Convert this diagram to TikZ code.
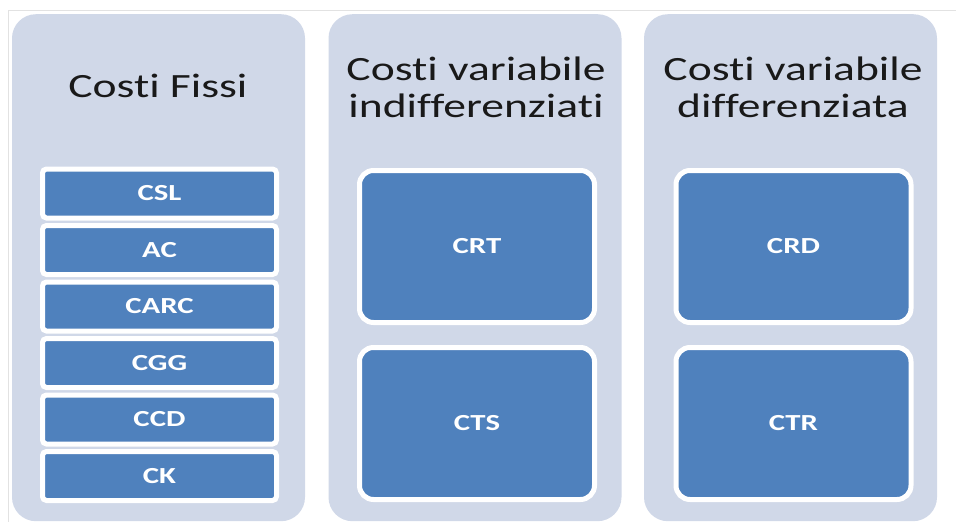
\documentclass[tikz,border=0pt]{standalone}
\usepackage{fontspec}
\setmainfont{Carlito}[Ligatures=NoCommon]
\definecolor{colfill}{HTML}{D0D8E8}
\definecolor{boxblue}{HTML}{4F81BD}
\definecolor{framegray}{HTML}{E2E2E2}
\newcommand\widetxt[1]{\scalebox{1.34}[1]{#1}}
\begin{document}
\begin{tikzpicture}[x=1pt,y=-1pt,
  column/.style={fill=colfill,draw=none,rounded corners=24pt,minimum width=293pt,minimum height=507pt,anchor=north,inner sep=0pt},
  smallbox/.style={fill=boxblue,draw=white,line width=5pt,rounded corners=4pt,minimum width=234pt,minimum height=49pt,inner sep=0pt,text=white,font=\bfseries\fontsize{23}{25}\selectfont},
  bigbox/.style={fill=boxblue,draw=white,line width=5pt,rounded corners=14pt,minimum width=235pt,minimum height=152pt,inner sep=0pt,text=white,font=\bfseries\fontsize{23}{25}\selectfont},
  title/.style={anchor=base,align=center,inner sep=0pt,text=black!90,font=\fontsize{34}{37}\selectfont}]
\useasboundingbox (0,0) rectangle (956,522);
\fill[white] (0,0) rectangle (956,522);
\draw[framegray,line width=1pt] (8,530) -- (8,10) -- (960,10);
\node[column] (c1) at (158.5,14) {};
\node[column] (c2) at (475,14) {};
\node[column] (c3) at (790.5,14) {};
\node[title] (t1) at (158,97) {\widetxt{Costi Fissi}};
\node[title] (t2) at (476,117) {\widetxt{Costi variabile}\\\widetxt{indifferenziati}};
\node[title] (t3) at (793,117) {\widetxt{Costi variabile}\\\widetxt{differenziata}};
\node[smallbox] (csl) at (159.5,193.5) {\widetxt{CSL}};
\node[smallbox] (ac) at (159.5,250) {\widetxt{AC}};
\node[smallbox] (carc) at (159.5,306.5) {\widetxt{CARC}};
\node[smallbox] (cgg) at (159.5,363) {\widetxt{CGG}};
\node[smallbox] (ccd) at (159.5,419.5) {\widetxt{CCD}};
\node[smallbox] (ck) at (159.5,476) {\widetxt{CK}};
\node[bigbox] (crt) at (477,246.5) {\widetxt{CRT}};
\node[bigbox] (cts) at (477,423.5) {\widetxt{CTS}};
\node[bigbox] (crd) at (793.5,246.5) {\widetxt{CRD}};
\node[bigbox] (ctr) at (793.5,423.5) {\widetxt{CTR}};
\end{tikzpicture}
\end{document}
